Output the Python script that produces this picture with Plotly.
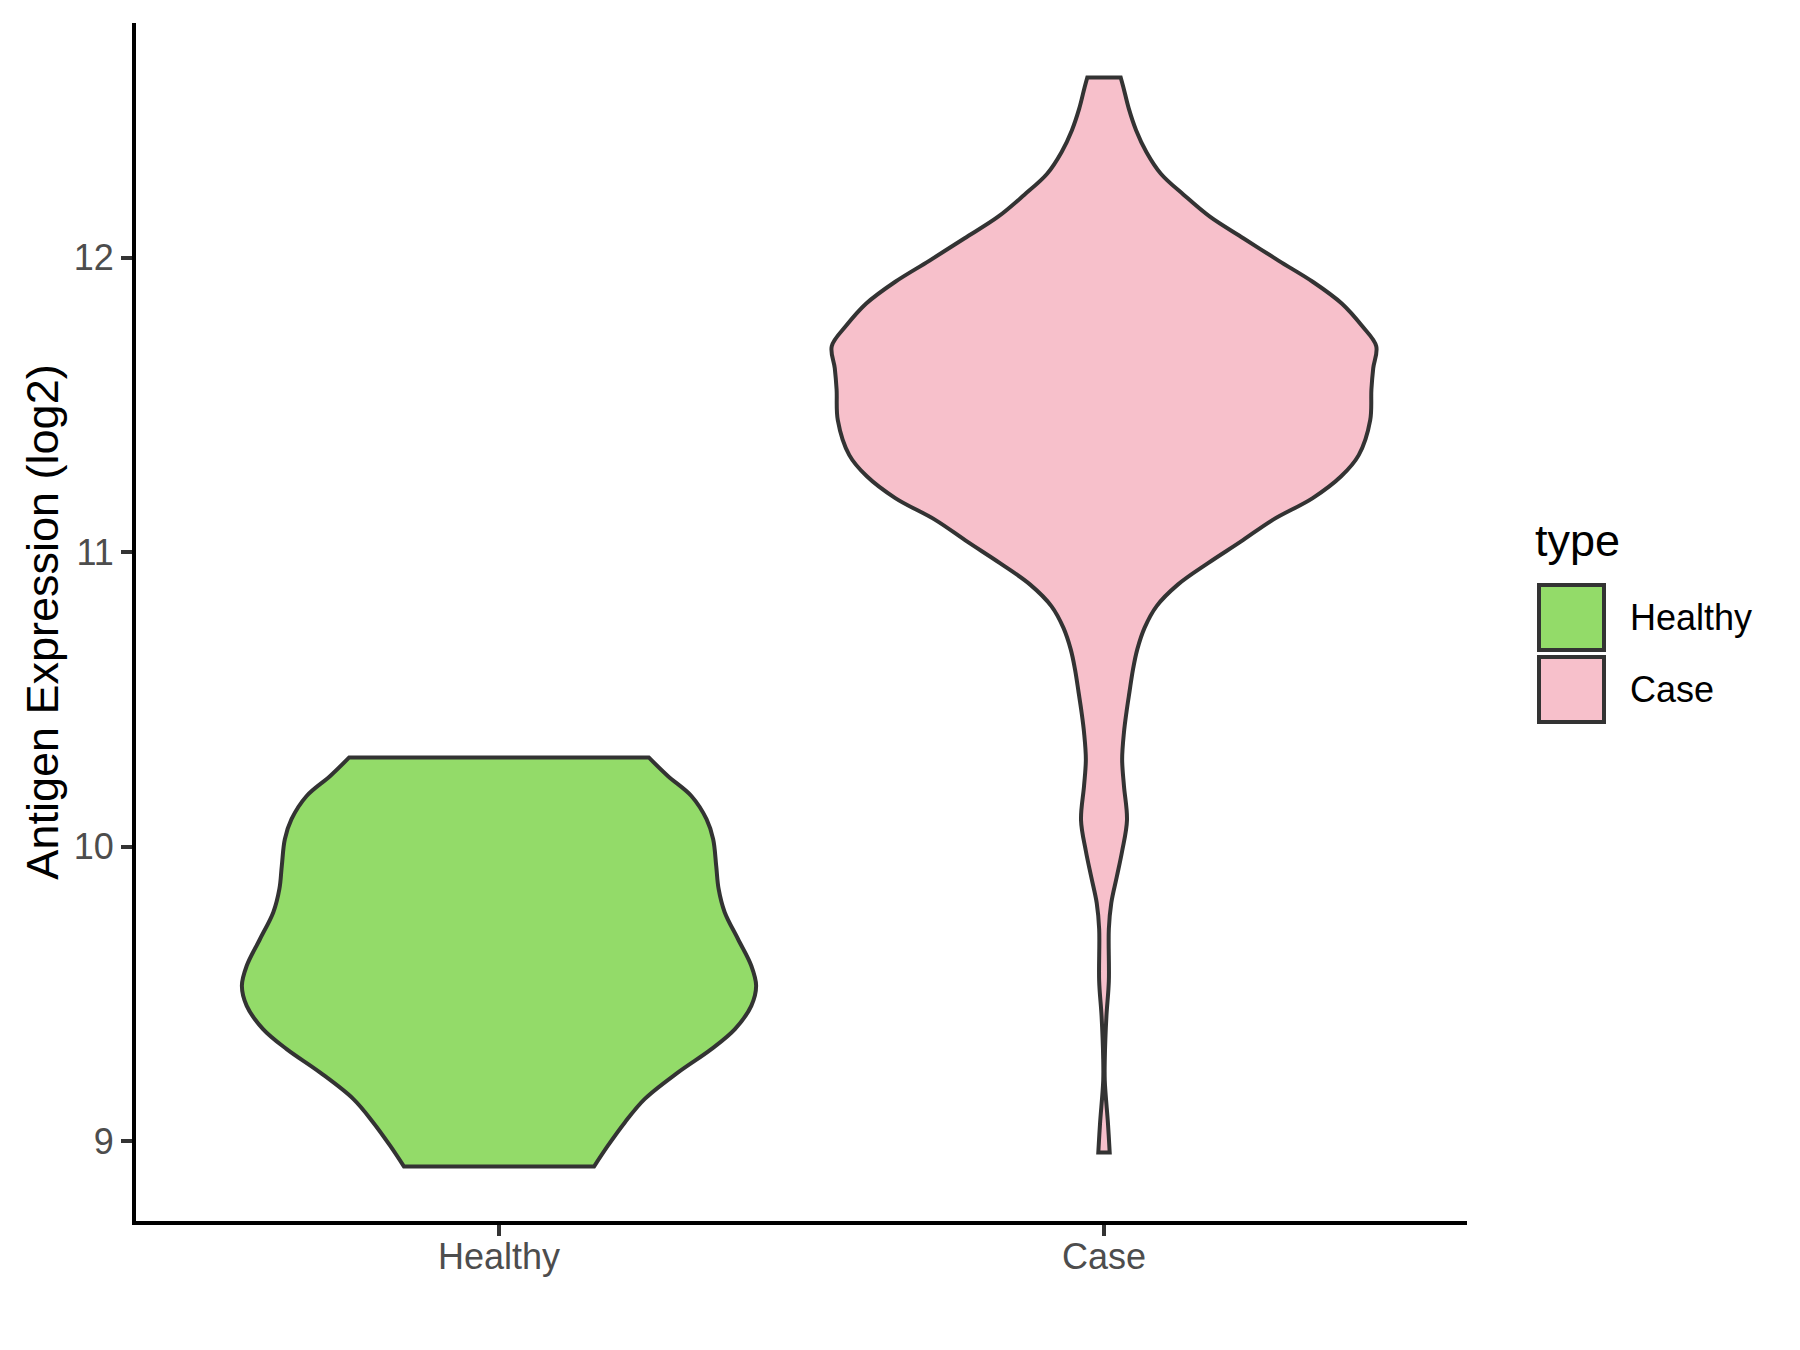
import plotly.graph_objects as go

# ---- data ----
categories = ["Healthy", "Case"]
cat_pos = [1, 2]
fill_colors = ["#93DB69", "#F7C0CB"]

# density profile of each violin: y value and half-width (in category units)
healthy_y = [8.913, 8.984, 9.063, 9.143, 9.233, 9.312, 9.380, 9.459, 9.527, 9.595,
             9.686, 9.777, 9.856, 9.935, 10.025, 10.093, 10.172, 10.240, 10.303]
healthy_hw = [0.157, 0.180, 0.208, 0.241, 0.296, 0.351, 0.390, 0.417, 0.425, 0.417,
              0.395, 0.373, 0.363, 0.359, 0.354, 0.343, 0.318, 0.279, 0.2475]

case_y = [8.961, 9.058, 9.204, 9.278, 9.424, 9.543, 9.72, 9.808, 9.896, 9.985, 10.09,
          10.206, 10.297, 10.388, 10.455, 10.524, 10.603, 10.67, 10.743, 10.817,
          10.89, 10.963, 11.036, 11.11, 11.184, 11.258, 11.33, 11.449, 11.553, 11.625,
          11.70, 11.77, 11.845, 11.919, 11.99, 12.066, 12.14, 12.214, 12.286, 12.36,
          12.434, 12.507, 12.58, 12.613]
case_hw = [0.0094, 0.0066, 0.0013, 0.0013, 0.004, 0.008, 0.008, 0.012, 0.021, 0.030, 0.038,
           0.033, 0.030, 0.033, 0.037, 0.042, 0.048, 0.055, 0.067, 0.087,
           0.122, 0.172, 0.226, 0.279, 0.345, 0.392, 0.421, 0.440, 0.442, 0.445,
           0.450, 0.426, 0.393, 0.345, 0.289, 0.231, 0.175, 0.132, 0.094, 0.070,
           0.053, 0.041, 0.032, 0.0276]

y_ticks = [9, 10, 11, 12]
y_title = "Antigen Expression (log2)"
legend_title = "type"

profiles = [(healthy_y, healthy_hw), (case_y, case_hw)]

FONT = "Liberation Sans, Arial, sans-serif"
OUTLINE = "#333333"

fig = go.Figure()
for name, pos, color, (ys, hws) in zip(categories, cat_pos, fill_colors, profiles):
    right_x = [pos + h for h in hws]
    left_x = [pos - h for h in reversed(hws)]
    # repeat end points so the flat top / bottom stay straight with sharp corners
    xs = [right_x[0]] + right_x + [right_x[-1]] + [left_x[0]] + left_x + [left_x[-1]] + [right_x[0], right_x[0]]
    yy = [ys[0]] + list(ys) + [ys[-1]] + [ys[-1]] + list(reversed(ys)) + [ys[0]] + [ys[0], ys[0]]
    fig.add_trace(go.Scatter(
        x=xs, y=yy, mode="lines", fill="toself", fillcolor=color,
        line=dict(color=OUTLINE, width=4, shape="spline", smoothing=1.0),
        name=name, showlegend=False, hoverinfo="skip"))

# ---- layout ----
W, H = 1800, 1350
OFF = 8  # page body margin of the html page
ml, mr, mt, mb = 136 - OFF, 333 + OFF, 23 - OFF, 129 + OFF
ymin = min(min(healthy_y), min(case_y))
ymax = max(max(healthy_y), max(case_y))
pad = (ymax - ymin) * 0.05

fig.update_layout(
    width=W, height=H,
    margin=dict(l=ml, r=mr, t=mt, b=mb, pad=0),
    plot_bgcolor="white", paper_bgcolor="white",
    font=dict(family=FONT, color="black"),
    showlegend=False,
)
fig.update_xaxes(
    range=[0.4, 2.6], tickvals=cat_pos, ticktext=categories,
    showgrid=False, zeroline=False, showline=True, linecolor="black", linewidth=4,
    ticks="outside", ticklen=11, tickwidth=4, tickcolor=OUTLINE,
    tickfont=dict(size=36, color="#4D4D4D", family=FONT), ticklabelstandoff=-10,
)
fig.update_yaxes(
    range=[ymin - pad, ymax + pad], tickvals=y_ticks,
    showgrid=False, zeroline=False, showline=True, linecolor="black", linewidth=4,
    ticks="outside", ticklen=11, tickwidth=4, tickcolor=OUTLINE,
    tickfont=dict(size=36, color="#4D4D4D", family=FONT), ticklabelstandoff=0,
    title=dict(text=y_title, font=dict(size=45, color="black", family=FONT), standoff=2),
)

# ---- legend (ggplot style keys), positions given in page pixels ----
pw = W - ml - mr
ph = H - mt - mb
def px_x(p):
    return (p - OFF - ml) / pw
def px_y(p):
    return (H - mb - (p - OFF)) / ph

key_left, key_right = 1539, 1604
key_tops = [585, 657]
key_size = 65
for name, color, top in zip(categories, fill_colors, key_tops):
    fig.add_shape(type="rect", xref="paper", yref="paper",
                  x0=px_x(key_left), x1=px_x(key_right),
                  y0=px_y(top + key_size), y1=px_y(top),
                  fillcolor=color, line=dict(color=OUTLINE, width=4))
    fig.add_annotation(xref="paper", yref="paper", x=px_x(1628), y=px_y(top + key_size / 2),
                       text=name, showarrow=False, xanchor="left", yanchor="middle",
                       font=dict(size=36, color="black", family=FONT))
fig.add_annotation(xref="paper", yref="paper", x=px_x(1533), y=px_y(540),
                   text=legend_title, showarrow=False, xanchor="left", yanchor="middle",
                   font=dict(size=45, color="black", family=FONT))

fig.write_html("out.html")
